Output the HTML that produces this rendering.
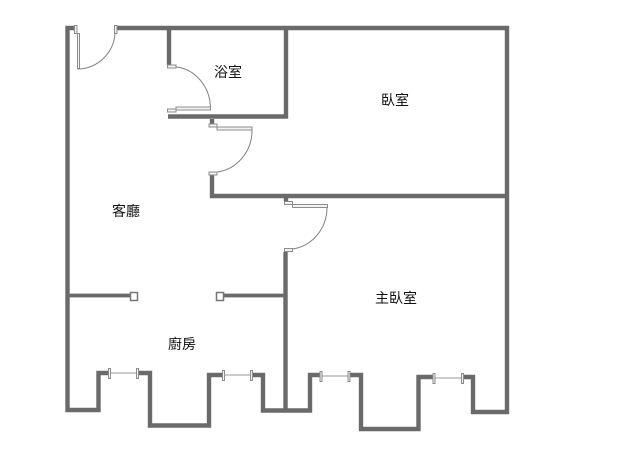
<!DOCTYPE html>
<html><head><meta charset="utf-8"><style>
html,body{margin:0;padding:0;background:#fff;width:640px;height:461px;overflow:hidden}
svg{display:block}
text{font-family:"Liberation Sans","Noto Sans CJK TC",sans-serif;font-size:14px;fill:#111;text-anchor:middle}
.w{fill:none;stroke:#6a6a6a;stroke-width:4.400;stroke-linejoin:miter;stroke-linecap:butt}
.t{fill:none;stroke:#6a6a6a;stroke-width:3.800}
.d{fill:#f2f2f2;stroke:#8c8c8c;stroke-width:1}
.a{fill:none;stroke:#808080;stroke-width:1}
.l{stroke:#999;stroke-width:1}
</style></head><body>
<svg width="640" height="461" viewBox="0 0 640 461" xmlns="http://www.w3.org/2000/svg">
<!-- outer wall -->
<path class="w" d="M74 28H67.500V410H98.500V373H109"/>
<path class="w" d="M139 373H150V425.500H209V375H222"/>
<path class="w" d="M253 375H263V410.500H310V375H320"/>
<path class="w" d="M350 375H361V429H418.500V377H433"/>
<path class="w" d="M464 377H473V412H507V28H117"/>
<!-- bath -->
<path class="w" d="M169 28V65"/>
<path class="w" d="M168 116.500H286V28"/>
<path class="w" d="M212 119V124"/>
<path class="w" d="M212 175V196H507"/>
<path class="w" d="M286 197V201"/>
<path class="w" d="M285.500 252V410"/>
<path class="t" d="M68 295.500H130"/>
<path class="t" d="M224 295.500H285"/>
<!-- columns -->
<rect x="130.500" y="292.500" width="7" height="8" fill="#fff" stroke="#777" stroke-width="1.500"/>
<rect x="216.500" y="292.500" width="7" height="8" fill="#fff" stroke="#777" stroke-width="1.500"/>
<!-- entry door -->
<rect class="d" x="74.500" y="25.500" width="2.500" height="8"/>
<rect class="d" x="77.500" y="33.500" width="2" height="35"/>
<rect class="d" x="114.500" y="25.500" width="2.500" height="8"/>
<path class="a" d="M77.500 69A38 38 0 0 0 115 33.500"/>
<!-- bath door -->
<rect class="d" x="167.500" y="65" width="8.500" height="3"/>
<rect class="d" x="167.500" y="109" width="8.500" height="3"/>
<rect class="d" x="176" y="107" width="34.500" height="3"/>
<path class="a" d="M176 67A38 42 0 0 1 210.500 107"/>
<!-- bedroom door -->
<rect class="d" x="209" y="124" width="8" height="3"/>
<rect class="d" x="217" y="127" width="35" height="3"/>
<rect class="d" x="209" y="172" width="8" height="3"/>
<path class="a" d="M217.500 172A40 42 0 0 0 252 130"/>
<!-- master door -->
<rect class="d" x="284.500" y="201.500" width="8" height="3"/>
<rect class="d" x="292.500" y="204.500" width="35" height="3"/>
<rect class="d" x="284.500" y="248.500" width="8" height="3"/>
<path class="a" d="M293 249A40 42 0 0 0 327 207.500"/>
<!-- windows -->
<path class="l" d="M110 373H138"/>
<rect class="d" x="108.500" y="368.500" width="2" height="10"/>
<rect class="d" x="136.500" y="368.500" width="2" height="10"/>
<path class="l" d="M224 375H252"/>
<rect class="d" x="222.500" y="370.500" width="2" height="10"/>
<rect class="d" x="250.500" y="370.500" width="2" height="10"/>
<path class="l" d="M321 376H349"/>
<rect class="d" x="320" y="371.500" width="2" height="10"/>
<rect class="d" x="348" y="371.500" width="2" height="10"/>
<path class="l" d="M434 378H462"/>
<rect class="d" x="433" y="373.500" width="2" height="10"/>
<rect class="d" x="461.500" y="373.500" width="2" height="10"/>
<!-- labels -->
<text x="228" y="77">浴室</text>
<text x="395" y="105">臥室</text>
<text x="126" y="216">客廳</text>
<text x="396" y="303">主臥室</text>
<text x="182" y="349">廚房</text>
</svg>
</body></html>
